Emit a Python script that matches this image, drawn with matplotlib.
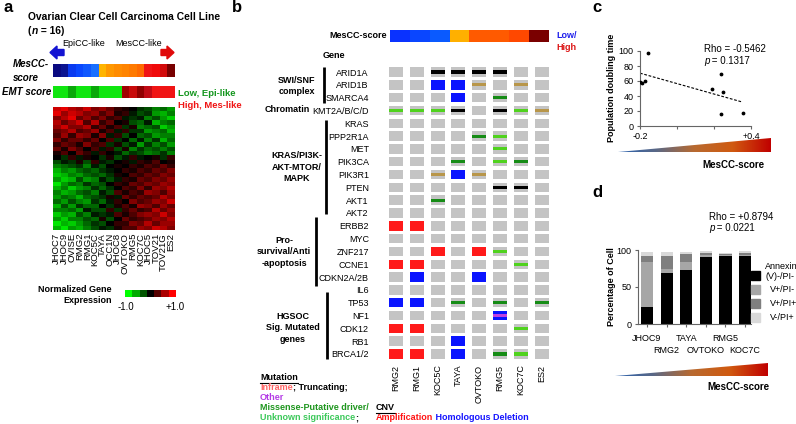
import numpy as np
import matplotlib
matplotlib.use("Agg")
import matplotlib.pyplot as plt
from matplotlib.colors import LinearSegmentedColormap, ListedColormap
from matplotlib.patches import Polygon

plt.rcParams['font.family'] = ['Liberation Sans', 'DejaVu Sans']

W, H = 796, 424

# %% Data -------------------------------------------------------------------------------------------------------------
# panel a
lines_a = ["JHOC7", "JHOC9", "OVISE", "RMG2", "RMG1", "KOC5C", "TAYA", "OCC1N",
           "JHOC8", "OVTOKO", "RMG5", "KOC7C", "JHOC5", "TOV21", "TOV21G", "ES2"]
mescc_colors_a = ["#0a0a80", "#0c1490", "#0a3af0", "#0a48ff", "#1058ff", "#1a70ff", "#ffb400", "#ff9800",
                  "#ff8c00", "#ff8400", "#ff7a00", "#ff6a00", "#f01414", "#f00a0a", "#d20a0a", "#780000"]
emt_colors = ["#10e610", "#10e610", "#0aa80a", "#10e610", "#10e610", "#0aa80a", "#10e610", "#10e610",
              "#10e610", "#a00000", "#c80a0a", "#900000", "#c00a14", "#f01414", "#f01414", "#f01414"]
expr = np.array([
    [0.8, 0.9, 0.7, 0.6, 0.8, 0.5, 0.6, 0.4, 0.2, 0.1, 0.0, -0.2, -0.3, -0.5, -0.4, -0.6],
    [0.9, 0.6, 0.8, 0.7, 0.5, 0.6, 0.3, 0.5, 0.1, 0.2, -0.1, -0.3, -0.2, -0.6, -0.7, -0.5],
    [0.5, 0.7, 0.9, 0.4, 0.6, 0.3, 0.5, 0.2, 0.3, -0.1, -0.2, -0.1, -0.5, -0.3, -0.6, -0.8],
    [0.7, 0.4, 0.6, 0.8, 0.3, 0.7, 0.2, 0.4, 0.0, 0.1, -0.3, -0.4, -0.1, -0.7, -0.5, -0.4],
    [0.6, 0.8, 0.5, 0.5, 0.7, 0.2, 0.4, 0.1, 0.3, -0.2, 0.1, -0.5, -0.4, -0.3, -0.8, -0.6],
    [0.4, 0.5, 0.7, 0.3, 0.4, 0.6, 0.1, 0.3, -0.1, 0.2, -0.2, -0.2, -0.6, -0.5, -0.4, -0.7],
    [0.3, 0.6, 0.2, 0.6, 0.5, 0.1, 0.5, -0.1, 0.2, -0.3, 0.0, -0.4, -0.3, -0.6, -0.5, -0.5],
    [0.5, 0.2, 0.4, 0.4, 0.2, 0.4, 0.0, 0.3, -0.2, 0.0, -0.4, -0.1, -0.5, -0.2, -0.7, -0.4],
    [0.2, 0.4, 0.3, 0.1, 0.5, 0.2, 0.3, -0.2, 0.1, -0.3, -0.1, -0.6, -0.2, -0.5, -0.3, -0.6],
    [0.4, 0.1, 0.5, 0.3, 0.0, 0.3, -0.1, 0.2, -0.3, 0.1, -0.5, -0.2, -0.4, -0.3, -0.5, -0.3],
    [0.1, 0.3, 0.0, 0.4, 0.2, -0.1, 0.2, 0.0, -0.1, -0.4, -0.2, -0.3, -0.5, -0.4, -0.2, -0.5],
    [0.0, -0.2, 0.2, -0.1, 0.1, 0.0, -0.2, 0.1, -0.3, -0.1, 0.2, -0.1, 0.0, 0.1, -0.2, 0.2],
    [-0.3, -0.1, -0.2, 0.1, -0.3, 0.2, -0.1, -0.2, 0.0, 0.1, -0.1, 0.2, 0.1, 0.3, 0.0, 0.1],
    [-0.5, -0.4, -0.3, -0.2, -0.5, -0.1, -0.3, 0.0, 0.1, 0.0, 0.2, 0.1, 0.3, 0.2, 0.4, 0.2],
    [-0.7, -0.5, -0.6, -0.4, -0.3, -0.4, -0.2, -0.1, 0.0, 0.2, 0.1, 0.3, 0.2, 0.4, 0.3, 0.5],
    [-0.8, -0.7, -0.5, -0.6, -0.4, -0.3, -0.4, -0.2, 0.1, 0.0, 0.3, 0.2, 0.4, 0.3, 0.5, 0.4],
    [-0.6, -0.8, -0.7, -0.3, -0.6, -0.5, -0.1, -0.3, -0.1, 0.2, 0.1, 0.4, 0.3, 0.5, 0.4, 0.6],
    [-0.9, -0.6, -0.4, -0.5, -0.2, -0.4, -0.3, 0.0, 0.2, 0.1, 0.4, 0.3, 0.5, 0.4, 0.6, 0.5],
    [-0.7, -0.5, -0.8, -0.6, -0.5, -0.2, -0.4, -0.2, 0.0, 0.3, 0.2, 0.5, 0.2, 0.6, 0.5, 0.7],
    [-0.5, -0.7, -0.6, -0.4, -0.3, -0.5, -0.1, -0.3, 0.3, 0.1, 0.3, 0.2, 0.6, 0.5, 0.3, 0.6],
    [-0.6, -0.4, -0.5, -0.7, -0.4, -0.3, -0.2, 0.1, -0.1, 0.4, 0.2, 0.4, 0.3, 0.4, 0.7, 0.5],
    [-0.4, -0.6, -0.3, -0.5, -0.6, -0.2, -0.4, -0.1, 0.2, 0.0, 0.5, 0.3, 0.4, 0.6, 0.5, 0.8],
    [-0.7, -0.3, -0.6, -0.2, -0.4, -0.4, 0.0, -0.2, 0.1, 0.3, 0.1, 0.6, 0.5, 0.3, 0.6, 0.4],
    [-0.5, -0.5, -0.4, -0.6, -0.1, -0.3, -0.3, 0.2, -0.2, 0.2, 0.4, 0.2, 0.3, 0.7, 0.4, 0.6],
    [-0.8, -0.6, -0.7, -0.3, -0.5, -0.1, -0.2, -0.1, 0.3, 0.1, 0.3, 0.5, 0.6, 0.5, 0.8, 0.5],
    [-0.6, -0.8, -0.5, -0.5, -0.3, -0.4, 0.1, -0.3, 0.0, 0.4, 0.2, 0.3, 0.4, 0.6, 0.5, 0.7],
    [-0.9, -0.7, -0.8, -0.6, -0.4, -0.2, -0.3, 0.0, 0.2, 0.2, 0.5, 0.4, 0.7, 0.4, 0.6, 0.6],
    [-0.7, -0.9, -0.6, -0.7, -0.5, -0.3, -0.1, -0.2, 0.1, 0.3, 0.3, 0.6, 0.5, 0.8, 0.7, 0.5],
])

# panel b
lines_b = ["RMG2", "RMG1", "KOC5C", "TAYA", "OVTOKO", "RMG5", "KOC7C", "ES2"]
mescc_colors_b = ["#0a32ff", "#0a46ff", "#0a5aff", "#ffb000", "#ff5a00", "#ff5a00", "#ff4800", "#7a0000"]
genes = ["ARID1A", "ARID1B", "SMARCA4", "KMT2A/B/C/D", "KRAS", "PPP2R1A", "MET", "PIK3CA", "PIK3R1",
         "PTEN", "AKT1", "AKT2", "ERBB2", "MYC", "ZNF217", "CCNE1", "CDKN2A/2B", "IL6", "TP53", "NF1",
         "CDK12", "RB1", "BRCA1/2"]
# CNV: A amplification, H homologous deletion
cnv = ["........", "..HH....", "...H....", "........", "........", "........", "........", "........",
       "...H....", "........", "........", "........", "AA......", "........", "..A.A...", "AA......",
       ".H..H...", "........", "HH......", ".....H..", "AA......", "...H....", "AA.H...."]
# mutation: T truncating, D missense putative driver, U unknown significance, O other, X unannotated (tan)
mut = ["..TTTT..", "....X.X.", ".....D..", "UUUT.TUX", "........", "....DU..", ".....U..", "...D.UD.",
       "..X.X...", ".....TT.", "..D.....", "........", "........", "........", ".....U..", "......U.",
       "........", "........", "...D.D.D", ".....O..", "......U.", "........", ".....DU."]
cnv_colors = {"A": "#ff1a1a", "H": "#0a14ff"}
mut_colors = {"T": "#000000", "D": "#168c16", "U": "#50d21e", "O": "#c040e0", "X": "#b8964a"}

# panel c
score_c = [-0.155, -0.198, -0.19, -0.173, 0.189, 0.237, 0.248, 0.237, 0.357]
doubling = [97, 59, 58, 60, 49, 69, 45, 15.5, 18]

# panel d
lines_d = ["JHOC9", "RMG2", "TAYA", "OVTOKO", "RMG5", "KOC7C"]
live = [23.5, 69.5, 72.5, 91, 92.3, 91.5]
early = [60.5, 5, 11.5, 2, 1, 2]
late = [8.5, 18, 10, 3.5, 1.5, 2]
necro = [4.5, 5, 3.5, 1.5, 1.5, 2.5]
annexin_labels = ["Annexin\n(V)-/PI-", "V+/PI-", "V+/PI+", "V-/PI+"]
annexin_colors = ["#000000", "#a6a6a6", "#7f7f7f", "#d9d9d9"]

# %% Figure -----------------------------------------------------------------------------------------------------------
fig = plt.figure(figsize=(W / 100, H / 100), dpi=100)
gkr = LinearSegmentedColormap.from_list("gkr", ["#00ff00", "#000000", "#ff0000"])
grad = LinearSegmentedColormap.from_list("grad", ["#2a62b0", "#5a6886", "#b86a30", "#d05a10", "#c00000"])


def px_axes(x0, y0, x1, y1):
    return fig.add_axes([x0 / W, 1 - y1 / H, (x1 - x0) / W, (y1 - y0) / H])


def color_strip(box, colors):
    ax = px_axes(*box)
    ax.imshow(np.arange(len(colors))[None, :], cmap=ListedColormap(colors), aspect="auto",
              interpolation="nearest")
    ax.axis("off")
    return ax


def wedge(box):
    ax = px_axes(*box)
    im = ax.imshow(np.linspace(0, 1, 256)[None, :], cmap=grad, extent=[0, 1, 0, 1], aspect="auto")
    ax.set_xlim(0, 1)
    ax.set_ylim(0, 1)
    im.set_clip_path(Polygon([(0, 0), (1, 0), (1, 1)], transform=ax.transData))
    ax.axis("off")


# region panel a
color_strip((53, 64, 175, 77), mescc_colors_a)
color_strip((53, 86, 175, 98), emt_colors)

ax = px_axes(53, 107, 175, 230)
ax.imshow(expr, cmap=gkr, vmin=-1, vmax=1, aspect="auto", interpolation="nearest")
ax.set_xticks(range(len(lines_a)), lines_a, rotation=90, fontsize=6.8)
ax.set_yticks([])
ax.tick_params(length=0, pad=2)
for s in ax.spines.values():
    s.set_visible(False)

ax = px_axes(125, 290, 176, 297)
ax.imshow(np.linspace(-1, 1, 7)[None, :], cmap=gkr, vmin=-1, vmax=1, aspect="auto")
ax.axis("off")
# endregion

# region panel b
axb = px_axes(385.6, 65.6, 552, 360.4)
ncol, nrow = len(lines_b), len(genes)
cw, ch, mh = 0.68, 0.74, 0.24
cols = np.tile(np.arange(ncol), nrow)
rows = np.repeat(np.arange(nrow), ncol)
axb.bar(cols, ch, bottom=rows - ch / 2, width=cw, color="#c4c4c4")
for code, c in cnv_colors.items():
    pos = [(j, i) for i, r in enumerate(cnv) for j, v in enumerate(r) if v == code]
    if pos:
        x, y = np.array(pos).T
        axb.bar(x, ch, bottom=y - ch / 2, width=cw, color=c)
for code, c in mut_colors.items():
    pos = [(j, i) for i, r in enumerate(mut) for j, v in enumerate(r) if v == code]
    if pos:
        x, y = np.array(pos).T
        axb.bar(x, mh, bottom=y - mh / 2, width=cw, color=c)
axb.set_xlim(-0.5, ncol - 0.5)
axb.set_ylim(nrow - 0.5, -0.5)
axb.set_yticks(range(nrow), genes, fontsize=6.5)
axb.set_xticks(range(ncol), lines_b, rotation=90, fontsize=6.5)
axb.tick_params(length=0)
axb.tick_params(axis="y", pad=12)
axb.tick_params(axis="x", pad=3)
for s in axb.spines.values():
    s.set_visible(False)

color_strip((390, 30, 549, 42), mescc_colors_b)
# endregion

# region panel c
axc = px_axes(640, 51, 751, 126)
axc.scatter(score_c, doubling, s=3, color="black", zorder=3)
k, b0 = np.polyfit(score_c, doubling, 1)
xl = np.array([-0.2, 0.35])
axc.plot(xl, k * xl + b0, ls=(0, (2.5, 1.5)), color="black", lw=0.8)
axc.set_xlim(-0.2, 0.4)
axc.set_ylim(0, 100)
axc.set_yticks(range(0, 101, 20))
axc.set_xticks([-0.2, 0.0, 0.2, 0.4], ["-0.2", "", "", "+0.4"])
wedge((618, 138, 771, 152))
# endregion

# region panel d
axd = px_axes(638, 250, 751, 324)
xd = np.arange(len(lines_d))
bottom = np.zeros(len(lines_d))
for vals, c in zip([live, early, late, necro], annexin_colors):
    axd.bar(xd, vals, bottom=bottom, width=0.62, color=c)
    bottom += np.array(vals)
axd.set_xlim(-0.46, 5.3)
axd.set_ylim(0, 100)
axd.set_yticks([0, 50, 100])
axd.set_xticks(xd[::2], lines_d[::2])
axd.set_xticks(xd[1::2], lines_d[1::2], minor=True)
wedge((615, 363, 768, 376))
# endregion

for a in (axc, axd):
    for s in ("top", "right"):
        a.spines[s].set_visible(False)
    for s in ("left", "bottom"):
        a.spines[s].set_color("#666666")
        a.spines[s].set_linewidth(0.8)
    a.tick_params(which="both", labelsize=6.5, length=2.5, width=0.8, color="#666666", pad=2)
axd.tick_params(axis="x", which="major", pad=5)
axd.tick_params(axis="x", which="minor", pad=13)

# %% Overlay texts (pixel coordinates) ---------------------------------------------------------------------------------
ov = fig.add_axes([0, 0, 1, 1])
ov.set_xlim(0, W)
ov.set_ylim(H, 0)
ov.axis("off")
renderer = fig.canvas.get_renderer()


def txt(x, y, s, size=6.5, **kw):
    kw.setdefault("va", "center")
    return ov.text(x, y, s, fontsize=size, **kw)


def runs(x, y, parts, size=6.5, underline=False):
    for s, kw in parts:
        t = txt(x, y, s, size, **kw)
        bb = t.get_window_extent(renderer)
        if underline:
            ov.plot([x, x + bb.width], [y + 5, y + 5], color="black", lw=0.8)
        x += bb.width


bold = dict(fontweight="bold")
for lab, x, y in [("a", 3, 0), ("b", 232, 0), ("c", 592, 0), ("d", 592, 185)]:
    txt(x, y, lab, 12, va="top", **bold)

# panel a
txt(28, 17, "Ovarian Clear Cell Carcinoma Cell Line", 7.4, **bold)
runs(28, 31, [("(", bold), ("n", dict(fontweight="bold", fontstyle="italic")), (" = 16)", bold)], 7.4)
txt(62, 43, "EpiCC-like", 6.5)
txt(115, 43, "MesCC-like", 6.5)
ov.add_patch(Polygon([(50, 52.5), (57, 46), (57, 49.5), (64, 49.5), (64, 55.5), (57, 55.5), (57, 59)],
                     color="#1414d2"))
ov.add_patch(Polygon([(174, 52.5), (167, 46), (167, 49.5), (161, 49.5), (161, 55.5), (167, 55.5), (167, 59)],
                     color="#e00a0a"))
txt(13, 71, "MesCC-\nscore", 7, fontstyle="italic", linespacing=1.4, **bold)
txt(2, 92, "EMT score", 7, fontstyle="italic", **bold)
txt(178, 93, "Low, Epi-like", 6.8, color="#14961e", **bold)
txt(178, 105, "High, Mes-like", 6.8, color="#f01414", **bold)
txt(112, 295, "Normalized Gene\nExpression", 6.5, ha="right", multialignment="right", linespacing=1.4,
    **bold)
txt(126, 307, "-1.0", 7, ha="center")
txt(175, 307, "+1.0", 7, ha="center")

# panel b
txt(387, 36, "MesCC-score", 6.5, ha="right", **bold)
txt(556, 36, "Low/", 6.5, color="#1e1eec", **bold)
txt(556, 47, "High", 6.5, color="#dc1414", **bold)
txt(323, 56, "Gene", 6.5, **bold)
for xb, y0, y1 in [(324, 67, 103), (326, 120, 214), (316, 217, 286), (327, 292, 359)]:
    ov.plot([xb, xb], [y0, y1], color="black", lw=2, solid_capstyle="butt")
txt(297, 86, "SWI/SNF\ncomplex", 6.5, ha="center", linespacing=1.3, **bold)
txt(310, 110, "Chromatin", 6.5, ha="right", **bold)
txt(297, 167, "KRAS/PI3K-\nAKT-MTOR/\nMAPK", 6.5, ha="center", linespacing=1.3, **bold)
txt(284, 252, "Pro-\nsurvival/Anti\n-apoptosis", 6.5, ha="center", linespacing=1.3, **bold)
txt(293, 328, "HGSOC\nSig. Mutated\ngenes", 6.5, ha="center", linespacing=1.3, **bold)

runs(260, 378, [("Mutation", bold)], underline=True)
runs(260, 388, [("Inframe", dict(color="#ff6464", **bold)), ("; Truncating;", bold)])
runs(260, 398, [("Other", dict(color="#b43ce6", **bold))])
runs(260, 408, [("Missense-Putative driver/", dict(color="#1e961e", **bold))])
runs(260, 418, [("Unknown significance", dict(color="#3cc85a", **bold)), (";", bold)])
runs(376, 408, [("CNV", bold)], underline=True)
runs(376, 418, [("Amplification", dict(color="#ff1414", **bold)),
                (" Homologous Deletion", dict(color="#1414ff", **bold))])

# panel c
txt(704, 49, "Rho = -0.5462", 7)
runs(704, 61, [("p", dict(fontstyle="italic")), (" = 0.1317", {})], 7)
txt(612, 88, "Population doubling time", 6.5, rotation=90, ha="center", **bold)
txt(702, 165, "MesCC-score", 7, **bold)

# panel d
txt(709, 217, "Rho = +0.8794", 7)
runs(709, 228, [("p", dict(fontstyle="italic")), (" = 0.0221", {})], 7)
txt(612, 287, "Percentage of Cell", 6.5, rotation=90, ha="center", **bold)
txt(707, 387, "MesCC-score", 7, **bold)
for lab, c, y in zip(annexin_labels, annexin_colors, [275.5, 289.5, 303.5, 317.5]):
    ov.add_patch(plt.Rectangle((751, y - 4.5), 9, 9, color=c))
    txt(765 if "\n" in lab else 770, y - 4 if "\n" in lab else y, lab, 6.5, linespacing=1.2)

fig.savefig("out.png", dpi=100)
